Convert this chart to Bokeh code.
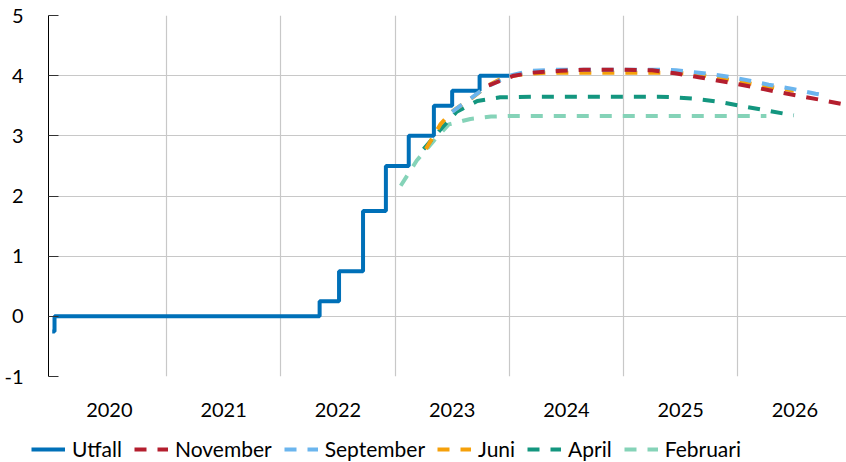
from bokeh.plotting import figure
from bokeh.models import Range1d, FixedTicker, Legend, LegendItem
from bokeh.layouts import column
from bokeh.embed import file_html
from bokeh.resources import INLINE

# ---- data (decimal years) ----
years = [2020, 2021, 2022, 2023, 2024, 2025, 2026]
year_labels = ["2020", "2021", "2022", "2023", "2024", "2025", "2026"]
y_ticks = [-1, 0, 1, 2, 3, 4, 5]

utfall_x = [2020.00, 2020.02, 2022.34, 2022.51, 2022.72, 2022.92, 2023.12, 2023.34, 2023.50, 2023.74, 2024.00]
utfall_y = [-0.25, 0.00, 0.25, 0.75, 1.75, 2.50, 3.00, 3.50, 3.75, 4.00, 4.00]

nov_x = [2023.82, 2024.04, 2024.20, 2024.45, 2024.65, 2025.00, 2025.25, 2025.45, 2025.67, 2025.91, 2026.11, 2026.32, 2026.52, 2026.72, 2026.91, 2027.00]
nov_y = [3.84, 4.00, 4.05, 4.08, 4.10, 4.10, 4.09, 4.04, 3.97, 3.89, 3.82, 3.74, 3.67, 3.60, 3.53, 3.50]

sep_x = [2023.50, 2023.66, 2023.79, 2024.00, 2024.19, 2024.40, 2025.30, 2025.46, 2025.66, 2025.86, 2026.07, 2026.27, 2026.48, 2026.68, 2026.74]
sep_y = [3.40, 3.62, 3.80, 4.00, 4.08, 4.10, 4.10, 4.09, 4.05, 4.00, 3.93, 3.85, 3.78, 3.70, 3.68]

jun_x = [2023.27, 2023.40, 2023.51, 2023.66, 2023.81, 2023.95, 2024.13, 2024.35, 2025.30, 2025.41, 2025.61, 2025.82, 2026.02, 2026.23, 2026.43, 2026.49]
jun_y = [2.78, 3.20, 3.42, 3.61, 3.83, 3.97, 4.03, 4.05, 4.05, 4.05, 4.03, 3.97, 3.90, 3.83, 3.77, 3.75]

apr_x = [2023.25, 2023.40, 2023.54, 2023.72, 2023.92, 2024.20, 2025.30, 2025.45, 2025.61, 2025.82, 2026.02, 2026.23, 2026.43, 2026.49]
apr_y = [2.78, 3.11, 3.40, 3.58, 3.64, 3.65, 3.65, 3.64, 3.62, 3.57, 3.50, 3.43, 3.36, 3.34]

feb_x = [2023.05, 2023.19, 2023.34, 2023.47, 2023.66, 2023.84, 2024.00, 2026.25]
feb_y = [2.17, 2.59, 2.92, 3.19, 3.28, 3.32, 3.33, 3.33]

series = [
    ("Utfall", utfall_x, utfall_y, "#0070B8", None),
    ("November", nov_x, nov_y, "#B41E2E", "12 11"),
    ("September", sep_x, sep_y, "#6BB5EE", "12 11"),
    ("Juni", jun_x, jun_y, "#F5A00A", "12 11"),
    ("April", apr_x, apr_y, "#13967F", "12 11"),
    ("Februari", feb_x, feb_y, "#85D3B8", "12 11"),
]

FONT = "Lato"
FS = "20px"
W = 4

# ---------------- main chart ----------------
p = figure(width=846, height=430, output_backend="svg", toolbar_location=None,
           x_range=Range1d(2019.9673, 2026.951), y_range=Range1d(-1, 5),
           min_border_left=48, min_border_right=0, min_border_top=15, min_border_bottom=54)
p.outline_line_color = None
p.frame_align = False

p.xgrid.ticker = FixedTicker(ticks=years[1:])
p.ygrid.ticker = FixedTicker(ticks=y_ticks)
for g in (p.xgrid, p.ygrid):
    g.grid_line_color = "#c8c8c8"
    g.grid_line_width = 1.2

p.xaxis.ticker = FixedTicker(ticks=[y + 0.5 for y in years])
p.xaxis.major_label_overrides = {y + 0.5: lab for y, lab in zip(years, year_labels)}
p.xaxis.axis_line_color = None
p.xaxis.major_tick_line_color = None
p.xaxis.minor_tick_line_color = None
p.xaxis.major_label_standoff = 20
p.xaxis.major_label_text_font = FONT
p.xaxis.major_label_text_font_size = FS
p.xaxis.major_label_text_color = "black"

p.yaxis.ticker = FixedTicker(ticks=y_ticks)
p.yaxis.major_label_overrides = {v: str(v) for v in y_ticks}
p.yaxis.axis_line_color = "black"
p.yaxis.axis_line_width = 1
p.yaxis.major_tick_in = 10
p.yaxis.major_tick_out = 0
p.yaxis.major_tick_line_color = "#333333"
p.yaxis.minor_tick_line_color = None
p.yaxis.major_label_standoff = 25
p.yaxis.major_label_text_font = FONT
p.yaxis.major_label_text_font_size = FS
p.yaxis.major_label_text_color = "black"

# draw order: Utfall first, then forecasts oldest -> newest (newest on top)
order = [0, 5, 4, 3, 2, 1]
for i in order:
    name, xs, ys, col, dash = series[i]
    if dash is None:
        p.step(xs, ys, mode="after", line_color=col, line_width=W)
    else:
        p.line(xs, ys, line_color=col, line_width=W, line_dash=dash)

# ---------------- legend strip ----------------
lg = figure(width=846, height=32, output_backend="svg", toolbar_location=None,
            x_range=Range1d(0, 1), y_range=Range1d(0, 1),
            min_border_left=0, min_border_right=0, min_border_top=0, min_border_bottom=0)
lg.outline_line_color = None
lg.frame_align = False
lg.axis.visible = False
lg.grid.visible = False

items = []
for name, xs, ys, col, dash in series:
    if dash is None:
        r = lg.step(xs, ys, mode="after", line_color=col, line_width=W)
    else:
        r = lg.line(xs, ys, line_color=col, line_width=W, line_dash=dash)
    items.append(LegendItem(label=name, renderers=[r]))

legend = Legend(items=items, orientation="horizontal", location=(31, 1),
                glyph_width=34, glyph_height=20, label_height=20, label_standoff=7,
                spacing=12, padding=0, margin=0, border_line_color=None,
                background_fill_alpha=0, label_text_font=FONT, label_text_font_size="21px",
                label_text_color="black")
lg.add_layout(legend)

layout = column(p, lg, spacing=0)
open("out.html", "w").write(file_html(layout, INLINE))
